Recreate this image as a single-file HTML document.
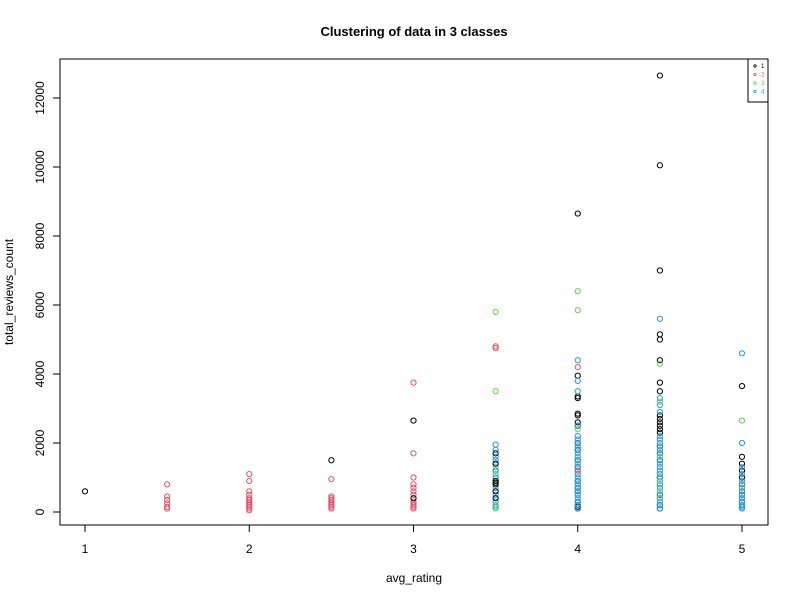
<!DOCTYPE html>
<html><head><meta charset="utf-8"><style>
body{margin:0;background:#fff}
svg text{font-family:"Liberation Sans",Arial,sans-serif}
</style></head><body>
<svg id="chart" width="800" height="600" xmlns="http://www.w3.org/2000/svg">
<rect width="800" height="600" fill="#fff"/>
<text x="414" y="36" text-anchor="middle" font-size="13" font-weight="bold">Clustering of data in 3 classes</text>
<rect x="60" y="59" width="708" height="466" fill="none" stroke="#000"/>
<text x="414" y="582" text-anchor="middle" font-size="12">avg_rating</text>
<text transform="translate(13,292) rotate(-90)" text-anchor="middle" font-size="12">total_reviews_count</text>
<g id="axes"></g>
<g id="points"></g>
<g>
<rect x="748" y="59" width="20" height="43" fill="#fff" stroke="#000"/>
<g id="legend"></g>
</g>
</svg>
<script>
const xTicks=[1,2,3,4,5];
const yTicks=[0,2000,4000,6000,8000,10000,12000];
const clusterLabels=["1","2","3","4"];
const clusterColors=["#000000","#DF536B","#61D04F","#2297E6"];
// each group: x value, cluster, y values
const groupX=[1,1.5,2,2.5,2.5,3,3,3.5,3.5,3.5,3.5,4,4,4,4,4.5,4.5,4.5,5,5,5];
const groupCluster=[1,2,2,1,2,2,1,3,2,4,1,1,3,4,2,1,4,3,1,3,4];
const groupValues=[
[600],
[800,450,350,250,150,100],
[1100,900,600,500,400,350,300,250,200,150,100,50],
[1500],
[950,450,400,350,300,250,200,150,100],
[3750,1700,1000,800,700,600,500,400,300,250,200,150,100],
[2650,400],
[5800,3500,1300,1200,1100,1000,900,800,600,400,200,100],
[4800,4750],
[1950,1800,1600,1500,1400,1200,1000,700,500,300,150],
[1700,1400,900,850,800,600,400],
[8650,3950,3350,3300,2850,2800,2600,2500,2000,1800,1500,1300,900,700,600,300,200,150,100],
[6400,5850,2400,1900,1200,1100,800,700,500,200],
[4400,3800,3500,2500,2200,2100,2000,1900,1800,1700,1600,1500,1400,1300,1200,1100,1000,900,800,700,600,500,400,300,200,100],
[4200,1200],
[12650,10050,7000,5150,5000,4400,3750,3500,2800,2700,2600,2500,2400,2300,1900,1700,1500,1000,500,400,200,100],
[5600,3300,3100,2900,2200,2100,2000,1900,1800,1700,1600,1500,1400,1300,1200,1100,1000,900,800,700,600,500,400,300,200,100],
[4300,3200,1600,900,600,400],
[3650,1600,1400,1200,1000,800,700,600,500,300],
[2650,700,500,400,200,150],
[4600,2000,1300,1100,900,800,600,500,400,300,200,150,100]
];
const NS="http://www.w3.org/2000/svg";
const xs=v=>85+(v-1)*164.25;
const ys=v=>512-v*0.0345;
const axes=document.getElementById('axes');
function mk(tag,attrs,parent){const e=document.createElementNS(NS,tag);for(const k in attrs)e.setAttribute(k,attrs[k]);parent.appendChild(e);return e;}
mk('line',{x1:xs(1),x2:xs(5),y1:525,y2:525,stroke:'#000'},axes);
xTicks.forEach(t=>{
  const l=mk('line',{x1:xs(t),x2:xs(t),y1:525,y2:532,stroke:'#000'},axes);
  
  
  const tx=mk('text',{x:xs(t),y:553,'text-anchor':'middle','font-size':12},axes);
  tx.textContent=t;
  
  
});
mk('line',{x1:60,x2:60,y1:ys(0),y2:ys(12000),stroke:'#000'},axes);
yTicks.forEach(t=>{
  const l=mk('line',{x1:53,x2:60,y1:ys(t),y2:ys(t),stroke:'#000'},axes);
  
  
  const tx=mk('text',{transform:`translate(44,${ys(t)}) rotate(-90)`,'text-anchor':'middle','font-size':12},axes);
  tx.textContent=t;
  
  
});
const pts=document.getElementById('points');
groupValues.forEach((vals,gi)=>{
  vals.forEach(v=>{
    const c=mk('circle',{cx:xs(groupX[gi]),cy:ys(v),r:2.6,fill:'none',stroke:clusterColors[groupCluster[gi]-1],'stroke-width':1},pts);
    
    
  });
});
const lg=document.getElementById('legend');
clusterLabels.forEach((lab,i)=>{
  const y=66+i*8.5;
  const c=mk('circle',{cx:755,cy:y,r:1.2,fill:'none',stroke:clusterColors[i],'stroke-width':0.8},lg);
  
  
  const t=mk('text',{x:761,y:y+2,'font-size':6,fill:clusterColors[i]},lg);
  t.textContent=lab;
  
  
});
</script>
</body></html>
